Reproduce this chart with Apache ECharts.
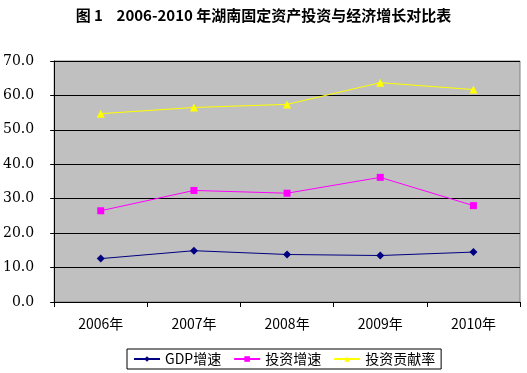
<!DOCTYPE html>
<html><head><meta charset="utf-8">
<script src="https://cdn.jsdelivr.net/npm/echarts@6/dist/echarts.min.js"></script>
<style>html,body{margin:0;padding:0;background:#fff}#c{width:527px;height:373px}</style>
</head><body><div id="c"></div>
<script>
const categories = ['2006年','2007年','2008年','2009年','2010年'];
const gdpGrowth = [12.6, 14.9, 13.8, 13.5, 14.5];
const investGrowth = [26.5, 32.4, 31.6, 36.2, 28.0];
const investContribution = [54.7, 56.5, 57.4, 63.7, 61.7];
const seriesNames = ['GDP增速','投资增速','投资贡献率'];
const titleText = '图 1    2006-2010 年湖南固定资产投资与经济增长对比表';

const font = '"Noto Sans CJK SC", "DejaVu Sans", sans-serif';
const chart = echarts.init(document.getElementById('c'));
chart.setOption({
  animation: false,
  backgroundColor: '#fff',
  title: {text: titleText, left: 'center', top: 3,
    textStyle: {fontSize: 15, fontWeight: 'bold', color: '#000', fontFamily: font}},
  legend: {
    data: seriesNames, bottom: 4, left: 127,
    borderColor: '#000', borderWidth: 1, padding: [3, 6], itemGap: 12,
    itemWidth: 26, itemHeight: 7,
    textStyle: {fontSize: 14, color: '#000', fontFamily: font}
  },
  grid: {left: 54, right: 7, top: 61, bottom: 71, show: true,
    backgroundColor: '#C0C0C0', borderColor: '#808080', borderWidth: 1},
  xAxis: {
    type: 'category', data: categories, boundaryGap: true,
    axisLine: {lineStyle: {color: '#000', width: 1}},
    axisTick: {show: true, length: 5, lineStyle: {color: '#000'}},
    axisLabel: {fontSize: 14, color: '#000', margin: 15, fontFamily: font}
  },
  yAxis: {
    type: 'value', min: 0, max: 70, interval: 10,
    axisLine: {show: true, lineStyle: {color: '#000'}},
    axisTick: {show: true, length: 4, lineStyle: {color: '#000'}},
    splitLine: {lineStyle: {color: '#000', width: 1}},
    axisLabel: {fontSize: 14, color: '#000', margin: 20, fontFamily: '"DejaVu Serif", serif',
      formatter: v => v.toFixed(1)}
  },
  series: [
    {name: seriesNames[0], type: 'line', data: gdpGrowth, symbol: 'diamond', symbolSize: 8,
      lineStyle: {color: '#000080', width: 1}, itemStyle: {color: '#000080'}},
    {name: seriesNames[1], type: 'line', data: investGrowth, symbol: 'rect', symbolSize: 7,
      lineStyle: {color: '#FF00FF', width: 1}, itemStyle: {color: '#FF00FF'}},
    {name: seriesNames[2], type: 'line', data: investContribution, symbol: 'triangle', symbolSize: 8,
      lineStyle: {color: '#FFFF00', width: 1}, itemStyle: {color: '#FFFF00'}}
  ]
});
</script></body></html>
